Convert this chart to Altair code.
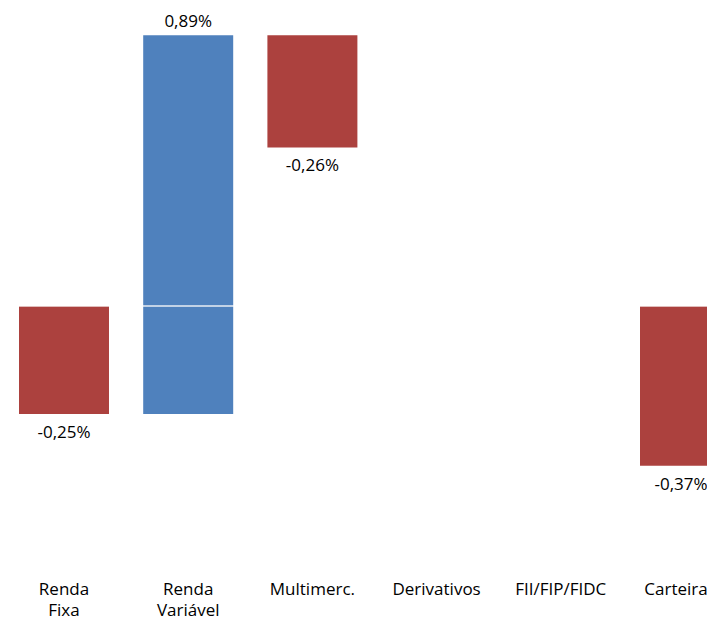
import altair as alt
import pandas as pd

categories = ["Renda Fixa", "Renda Variável", "Multimerc.", "Derivativos", "FII/FIP/FIDC", "Carteira"]
# bar heights (percentage points)
deltas = [-0.25, 0.877, -0.26, 0.0, 0.0, -0.37]
# value labels as printed on the chart
value_labels = ["-0,25%", "0,89%", "-0,26%", "", "", "-0,37%"]
is_total = [False, False, False, False, False, True]

rows = []
cum = 0.0
for cat, d, lab, tot in zip(categories, deltas, value_labels, is_total):
    if tot:
        start, end = 0.0, d
    else:
        start, end = cum, cum + d
        cum = end
    rows.append({
        "cat": cat,
        "delta": d,
        "total": tot,
        "start": start,
        "end": end,
        "sign": "pos" if d >= 0 else "neg",
        "label": lab,
        "lo": min(start, end),
        "hi": max(start, end),
    })
df = pd.DataFrame(rows)

FONT = "Open Sans"
xscale = alt.Scale(domain=categories, range=[11, 722], paddingInner=0.2754, paddingOuter=0, round=False)
x = alt.X("cat:N", sort=categories, title=None, scale=xscale,
          axis=alt.Axis(labelExpr="split(datum.label, ' ')", labelAngle=0, ticks=False, tickSize=0,
                        domain=False, grid=False, labelFont=FONT, labelFontSize=17,
                        labelColor="#000000", labelLineHeight=21, labelPadding=14,
                        labelBaseline="alphabetic",
                        labelOffset={"condition": {"test": "datum.value === 'Carteira'", "value": -9}, "value": 0}))
yscale = alt.Scale(domain=[-0.634259, 0.689815], nice=False, zero=False)

bars = alt.Chart(df).mark_bar(clip=True).encode(
    x=x,
    y=alt.Y("start:Q", scale=yscale, axis=None),
    y2="end:Q",
    color=alt.Color("sign:N", scale=alt.Scale(domain=["pos", "neg"], range=["#4F81BD", "#AC413E"]), legend=None),
)

zero = alt.Chart(df).mark_rule(color="white", opacity=0.22, strokeWidth=1.5, clip=True).encode(
    y=alt.Y("z:Q", scale=yscale, axis=None)
).transform_calculate(z="0")

pos_labels = alt.Chart(df).transform_filter("datum.delta > 0").mark_text(
    font=FONT, fontSize=17, color="#000000", baseline="alphabetic", dy=-8
).encode(x=alt.X("cat:N", sort=categories), y=alt.Y("hi:Q", scale=yscale, axis=None), text="label:N")

neg_labels = alt.Chart(df).transform_filter("datum.delta < 0 && !datum.total").mark_text(
    font=FONT, fontSize=17, color="#000000", baseline="alphabetic", dy=24
).encode(x=alt.X("cat:N", sort=categories), y=alt.Y("lo:Q", scale=yscale, axis=None), text="label:N")

total_labels = alt.Chart(df).transform_filter("datum.total").mark_text(
    font=FONT, fontSize=17, color="#000000", baseline="alphabetic", dy=24, dx=-4
).encode(x=alt.X("cat:N", sort=categories), y=alt.Y("lo:Q", scale=yscale, axis=None), text="label:N")

chart = alt.layer(bars, zero, pos_labels, neg_labels, total_labels).properties(
    width=699, height=572,
    autosize=alt.AutoSizeParams(type="none"),
    padding={"left": 0, "top": 0, "right": 0, "bottom": 39},
    background="white",
).configure_view(strokeWidth=0)

chart.save("out.html", embed_options={"renderer": "svg", "actions": False})
